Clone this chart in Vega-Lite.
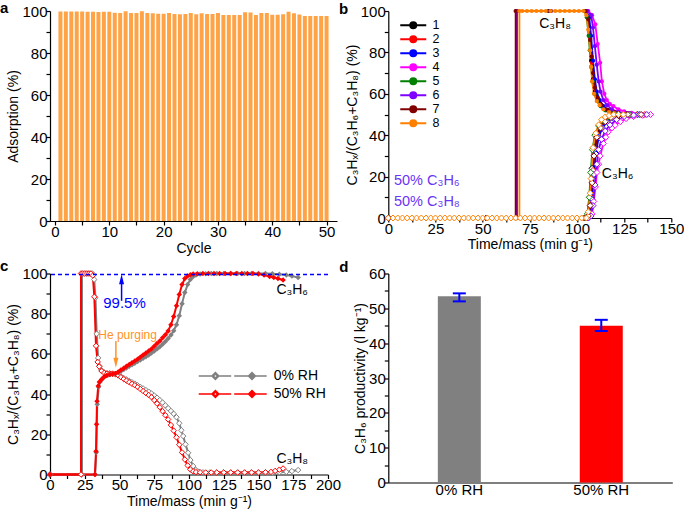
{
"$schema": "https://vega.github.io/schema/vega-lite/v6.json",
"background": "white",
"padding": {"left": 0, "top": 1, "right": 0, "bottom": 0},
"config": {
 "font": "Liberation Sans",
 "view": {"stroke": null},
 "axis": {"grid": false, "domainColor": "#000", "tickColor": "#000", "labelColor": "#000", "titleColor": "#000", "labelFontSize": 15, "titleFontSize": 14, "titleFontWeight": "normal", "tickSize": 4, "domainWidth": 1.2, "tickWidth": 1.2, "labelOverlap": false, "labelFlush": false},
 "axisX": {"labelPadding": -1, "titlePadding": 2},
 "axisY": {"labelPadding": -1, "titlePadding": 1},
 "title": {"fontSize": 15, "fontWeight": "bold", "anchor": "start", "frame": "group", "color": "#000", "baseline": "alphabetic", "offset": 0},
 "legend": {"labelFontSize": 14, "labelColor": "#000", "padding": 0, "title": null}
},
"columns": 2,
"spacing": {"row": 52.5, "column": 51.3},
"bounds": "flush",
"resolve": {"scale": {"color": "independent"}, "legend": {"color": "independent"}},
"concat": [
{
 "width": 287, "height": 210,
 "title": {"text": "a", "dx": -50, "dy": 16},
 "data": {"values": [
  {"cycle":1,"ads":99.8},{"cycle":2,"ads":99.8},{"cycle":3,"ads":99.8},{"cycle":4,"ads":99.8},{"cycle":5,"ads":99.8},
  {"cycle":6,"ads":99.7},{"cycle":7,"ads":99.6},{"cycle":8,"ads":99.5},{"cycle":9,"ads":99.7},{"cycle":10,"ads":99.7},
  {"cycle":11,"ads":99.2},{"cycle":12,"ads":99.1},{"cycle":13,"ads":99.9},{"cycle":14,"ads":99.1},{"cycle":15,"ads":99.1},
  {"cycle":16,"ads":99.9},{"cycle":17,"ads":99.0},{"cycle":18,"ads":98.9},{"cycle":19,"ads":98.7},{"cycle":20,"ads":98.7},
  {"cycle":21,"ads":99.0},{"cycle":22,"ads":98.6},{"cycle":23,"ads":98.5},{"cycle":24,"ads":98.6},{"cycle":25,"ads":99.0},
  {"cycle":26,"ads":98.5},{"cycle":27,"ads":98.9},{"cycle":28,"ads":98.6},{"cycle":29,"ads":98.6},{"cycle":30,"ads":99.0},
  {"cycle":31,"ads":98.1},{"cycle":32,"ads":98.1},{"cycle":33,"ads":98.1},{"cycle":34,"ads":98.1},{"cycle":35,"ads":99.4},
  {"cycle":36,"ads":99.3},{"cycle":37,"ads":98.1},{"cycle":38,"ads":99.0},{"cycle":39,"ads":99.0},{"cycle":40,"ads":98.2},
  {"cycle":41,"ads":98.2},{"cycle":42,"ads":98.4},{"cycle":43,"ads":99.7},{"cycle":44,"ads":98.9},{"cycle":45,"ads":98.3},
  {"cycle":46,"ads":97.6},{"cycle":47,"ads":97.6},{"cycle":48,"ads":97.6},{"cycle":49,"ads":97.6},{"cycle":50,"ads":97.6}
 ]},
 "mark": {"type": "bar", "color": "#ffa347", "size": 4},
 "encoding": {
  "x": {"field": "cycle", "type": "quantitative", "scale": {"domain": [0, 51], "nice": false},
        "axis": {"title": "Cycle", "format": "d", "tickCount": 100, "labelOverlap": false, "values": [0,5,10,15,20,25,30,35,40,45,50], "labelExpr": "datum.value % 10 === 0 ? datum.label : ''",
                 "encode": {"ticks": {"update": {"y2": {"signal": "datum.value % 10 === 0 ? 4 : 2"}}}, "labels": {"update": {"fontSize": {"signal": "datum.value % 10 === 0 ? 15 : 0"}}}}}},
  "y": {"field": "ads", "type": "quantitative", "scale": {"domain": [0, 100]},
        "axis": {"title": "Adsorption (%)", "format": "d", "tickCount": 100, "labelOverlap": false, "values": [0,10,20,30,40,50,60,70,80,90,100], "labelExpr": "datum.value % 20 === 0 ? datum.label : ''",
                 "encode": {"ticks": {"update": {"x2": {"signal": "datum.value % 20 === 0 ? -4 : -2"}}}, "labels": {"update": {"fontSize": {"signal": "datum.value % 20 === 0 ? 15 : 0"}}}}}}
 }
},
{
 "width": 283, "height": 207,
 "title": {"text": "b", "dx": -49.3, "dy": 16.7},
 "data": {"values": [
  {"s":"1","t":"P","x":0,"y":0},{"s":"1","t":"P","x":68,"y":0},{"s":"1","t":"P","x":68,"y":100},{"s":"1","t":"P","x":85,"y":100},{"s":"1","t":"P","x":104,"y":100},{"s":"1","t":"P","x":105.5,"y":97},{"s":"1","t":"P","x":106.5,"y":88},{"s":"1","t":"P","x":107.5,"y":76},{"s":"1","t":"P","x":108.5,"y":67},{"s":"1","t":"P","x":109.5,"y":61},{"s":"1","t":"P","x":111,"y":57},{"s":"1","t":"P","x":113,"y":54},{"s":"1","t":"P","x":116,"y":52},{"s":"1","t":"P","x":120,"y":50.8},{"s":"1","t":"P","x":126,"y":50.2},{"s":"1","t":"P","x":132,"y":50},
  {"s":"1","t":"E","x":0,"y":0},{"s":"1","t":"E","x":52,"y":0},{"s":"1","t":"E","x":104,"y":0},{"s":"1","t":"E","x":106,"y":2},{"s":"1","t":"E","x":107,"y":10},{"s":"1","t":"E","x":108,"y":24},{"s":"1","t":"E","x":109,"y":34},{"s":"1","t":"E","x":110.5,"y":40},{"s":"1","t":"E","x":112.5,"y":44},{"s":"1","t":"E","x":115,"y":47},{"s":"1","t":"E","x":118,"y":48.8},{"s":"1","t":"E","x":122,"y":49.6},{"s":"1","t":"E","x":126,"y":50},{"s":"1","t":"E","x":132,"y":50},
  {"s":"2","t":"P","x":0,"y":0},{"s":"2","t":"P","x":68,"y":0},{"s":"2","t":"P","x":68,"y":100},{"s":"2","t":"P","x":86,"y":100},{"s":"2","t":"P","x":104.5,"y":100},{"s":"2","t":"P","x":106,"y":97},{"s":"2","t":"P","x":107,"y":87},{"s":"2","t":"P","x":108,"y":75},{"s":"2","t":"P","x":109,"y":67},{"s":"2","t":"P","x":110,"y":61},{"s":"2","t":"P","x":111.5,"y":57},{"s":"2","t":"P","x":113.5,"y":54},{"s":"2","t":"P","x":116.5,"y":52},{"s":"2","t":"P","x":120.5,"y":50.8},{"s":"2","t":"P","x":127,"y":50.2},{"s":"2","t":"P","x":136,"y":50},
  {"s":"2","t":"E","x":0,"y":0},{"s":"2","t":"E","x":52,"y":0},{"s":"2","t":"E","x":104.5,"y":0},{"s":"2","t":"E","x":106.5,"y":2},{"s":"2","t":"E","x":107.5,"y":10},{"s":"2","t":"E","x":108.5,"y":23},{"s":"2","t":"E","x":109.5,"y":33},{"s":"2","t":"E","x":111,"y":40},{"s":"2","t":"E","x":113,"y":44},{"s":"2","t":"E","x":115.5,"y":46.8},{"s":"2","t":"E","x":118.5,"y":48.6},{"s":"2","t":"E","x":123,"y":49.6},{"s":"2","t":"E","x":128,"y":50},{"s":"2","t":"E","x":132,"y":50},{"s":"2","t":"E","x":136,"y":50},
  {"s":"3","t":"P","x":0,"y":0},{"s":"3","t":"P","x":68,"y":0},{"s":"3","t":"P","x":68,"y":100},{"s":"3","t":"P","x":86,"y":100},{"s":"3","t":"P","x":105,"y":100},{"s":"3","t":"P","x":106.5,"y":97},{"s":"3","t":"P","x":107.5,"y":88},{"s":"3","t":"P","x":108.5,"y":76},{"s":"3","t":"P","x":109.5,"y":67},{"s":"3","t":"P","x":110.5,"y":61},{"s":"3","t":"P","x":112,"y":57},{"s":"3","t":"P","x":114,"y":54},{"s":"3","t":"P","x":117,"y":52},{"s":"3","t":"P","x":121,"y":50.8},{"s":"3","t":"P","x":127,"y":50.2},{"s":"3","t":"P","x":133,"y":50},
  {"s":"3","t":"E","x":0,"y":0},{"s":"3","t":"E","x":52,"y":0},{"s":"3","t":"E","x":105,"y":0},{"s":"3","t":"E","x":107,"y":2},{"s":"3","t":"E","x":108,"y":9},{"s":"3","t":"E","x":109,"y":21},{"s":"3","t":"E","x":110,"y":31},{"s":"3","t":"E","x":111.5,"y":39},{"s":"3","t":"E","x":113.5,"y":43.5},{"s":"3","t":"E","x":116,"y":46.5},{"s":"3","t":"E","x":119,"y":48.5},{"s":"3","t":"E","x":123,"y":49.5},{"s":"3","t":"E","x":128,"y":50},{"s":"3","t":"E","x":133,"y":50},
  {"s":"4","t":"P","x":0,"y":0},{"s":"4","t":"P","x":68,"y":0},{"s":"4","t":"P","x":68,"y":100},{"s":"4","t":"P","x":86,"y":100},{"s":"4","t":"P","x":106,"y":100},{"s":"4","t":"P","x":108,"y":98},{"s":"4","t":"P","x":109.7,"y":93.6},{"s":"4","t":"P","x":111,"y":84},{"s":"4","t":"P","x":112.3,"y":75},{"s":"4","t":"P","x":113.2,"y":66},{"s":"4","t":"P","x":114.5,"y":60},{"s":"4","t":"P","x":115.8,"y":57},{"s":"4","t":"P","x":117.5,"y":55},{"s":"4","t":"P","x":119.3,"y":54},{"s":"4","t":"P","x":122,"y":52.5},{"s":"4","t":"P","x":125,"y":51.5},{"s":"4","t":"P","x":129,"y":50.8},{"s":"4","t":"P","x":134,"y":50.3},{"s":"4","t":"P","x":139,"y":50},
  {"s":"4","t":"E","x":0,"y":0},{"s":"4","t":"E","x":52,"y":0},{"s":"4","t":"E","x":106,"y":0},{"s":"4","t":"E","x":108,"y":2},{"s":"4","t":"E","x":108.9,"y":8},{"s":"4","t":"E","x":109.8,"y":15},{"s":"4","t":"E","x":110.6,"y":22},{"s":"4","t":"E","x":111.5,"y":26},{"s":"4","t":"E","x":112.3,"y":30},{"s":"4","t":"E","x":114,"y":36},{"s":"4","t":"E","x":115.3,"y":39},{"s":"4","t":"E","x":116.6,"y":41.6},{"s":"4","t":"E","x":118.5,"y":43.5},{"s":"4","t":"E","x":120.2,"y":44.8},{"s":"4","t":"E","x":123,"y":46.5},{"s":"4","t":"E","x":126,"y":48},{"s":"4","t":"E","x":130,"y":49},{"s":"4","t":"E","x":134.8,"y":49.6},{"s":"4","t":"E","x":139,"y":50},
  {"s":"5","t":"P","x":0,"y":0},{"s":"5","t":"P","x":68,"y":0},{"s":"5","t":"P","x":68,"y":100},{"s":"5","t":"P","x":86,"y":100},{"s":"5","t":"P","x":104,"y":100},{"s":"5","t":"P","x":105.2,"y":97},{"s":"5","t":"P","x":106.2,"y":88},{"s":"5","t":"P","x":106.8,"y":81},{"s":"5","t":"P","x":107.5,"y":73},{"s":"5","t":"P","x":108.3,"y":66},{"s":"5","t":"P","x":109.3,"y":60},{"s":"5","t":"P","x":110.7,"y":56.5},{"s":"5","t":"P","x":112.5,"y":54},{"s":"5","t":"P","x":115,"y":52},{"s":"5","t":"P","x":119,"y":50.7},{"s":"5","t":"P","x":123,"y":50.2},{"s":"5","t":"P","x":128,"y":50},
  {"s":"5","t":"E","x":0,"y":0},{"s":"5","t":"E","x":52,"y":0},{"s":"5","t":"E","x":104,"y":0},{"s":"5","t":"E","x":105.5,"y":2},{"s":"5","t":"E","x":106.5,"y":10},{"s":"5","t":"E","x":107.3,"y":22},{"s":"5","t":"E","x":108.2,"y":33},{"s":"5","t":"E","x":109.5,"y":40},{"s":"5","t":"E","x":111.5,"y":44.5},{"s":"5","t":"E","x":114,"y":47},{"s":"5","t":"E","x":117,"y":48.8},{"s":"5","t":"E","x":121,"y":49.7},{"s":"5","t":"E","x":128,"y":50},
  {"s":"6","t":"P","x":0,"y":0},{"s":"6","t":"P","x":68,"y":0},{"s":"6","t":"P","x":68,"y":100},{"s":"6","t":"P","x":86,"y":100},{"s":"6","t":"P","x":105.5,"y":100},{"s":"6","t":"P","x":107.5,"y":98},{"s":"6","t":"P","x":108.5,"y":92},{"s":"6","t":"P","x":109.5,"y":83},{"s":"6","t":"P","x":110.5,"y":74},{"s":"6","t":"P","x":111.5,"y":66},{"s":"6","t":"P","x":112.5,"y":61},{"s":"6","t":"P","x":114,"y":57},{"s":"6","t":"P","x":116,"y":54.5},{"s":"6","t":"P","x":118.5,"y":52.5},{"s":"6","t":"P","x":122,"y":51.2},{"s":"6","t":"P","x":127,"y":50.5},{"s":"6","t":"P","x":132,"y":50.2},{"s":"6","t":"P","x":137,"y":50},
  {"s":"6","t":"E","x":0,"y":0},{"s":"6","t":"E","x":52,"y":0},{"s":"6","t":"E","x":106,"y":0},{"s":"6","t":"E","x":107.5,"y":1},{"s":"6","t":"E","x":108.5,"y":6},{"s":"6","t":"E","x":109.5,"y":16},{"s":"6","t":"E","x":110.5,"y":26},{"s":"6","t":"E","x":111.5,"y":33},{"s":"6","t":"E","x":113,"y":38},{"s":"6","t":"E","x":115,"y":42},{"s":"6","t":"E","x":117.5,"y":45},{"s":"6","t":"E","x":121,"y":47.5},{"s":"6","t":"E","x":125,"y":49},{"s":"6","t":"E","x":130,"y":49.7},{"s":"6","t":"E","x":137,"y":50},
  {"s":"7","t":"P","x":0,"y":0},{"s":"7","t":"P","x":67.5,"y":0},{"s":"7","t":"P","x":67.5,"y":100},{"s":"7","t":"P","x":86,"y":100},{"s":"7","t":"P","x":104.5,"y":100},{"s":"7","t":"P","x":106,"y":96},{"s":"7","t":"P","x":107,"y":86},{"s":"7","t":"P","x":107.8,"y":78},{"s":"7","t":"P","x":108.5,"y":70},{"s":"7","t":"P","x":109.5,"y":63},{"s":"7","t":"P","x":111,"y":58},{"s":"7","t":"P","x":113,"y":54.5},{"s":"7","t":"P","x":116,"y":52.3},{"s":"7","t":"P","x":120,"y":51},{"s":"7","t":"P","x":126,"y":50.3},{"s":"7","t":"P","x":134,"y":50},
  {"s":"7","t":"E","x":0,"y":0},{"s":"7","t":"E","x":52,"y":0},{"s":"7","t":"E","x":104.5,"y":0},{"s":"7","t":"E","x":106,"y":1},{"s":"7","t":"E","x":107,"y":6},{"s":"7","t":"E","x":108,"y":17},{"s":"7","t":"E","x":109,"y":30},{"s":"7","t":"E","x":110.5,"y":39},{"s":"7","t":"E","x":112.5,"y":43.5},{"s":"7","t":"E","x":115,"y":46.5},{"s":"7","t":"E","x":118,"y":48.5},{"s":"7","t":"E","x":122,"y":49.5},{"s":"7","t":"E","x":127,"y":50},{"s":"7","t":"E","x":134,"y":50},
  {"s":"8","t":"P","x":0,"y":0},{"s":"8","t":"P","x":69.5,"y":0},{"s":"8","t":"P","x":69.5,"y":100},{"s":"8","t":"P","x":71,"y":100},{"s":"8","t":"P","x":73.5,"y":100},{"s":"8","t":"P","x":76,"y":100},{"s":"8","t":"P","x":78.5,"y":100},{"s":"8","t":"P","x":81,"y":100},{"s":"8","t":"P","x":83.5,"y":100},{"s":"8","t":"P","x":86,"y":100},{"s":"8","t":"P","x":88.5,"y":100},{"s":"8","t":"P","x":91,"y":100},{"s":"8","t":"P","x":93.5,"y":100},{"s":"8","t":"P","x":96,"y":100},{"s":"8","t":"P","x":98.5,"y":100},{"s":"8","t":"P","x":101,"y":100},{"s":"8","t":"P","x":103.5,"y":100},{"s":"8","t":"P","x":105,"y":98},{"s":"8","t":"P","x":106,"y":91},{"s":"8","t":"P","x":107,"y":81},{"s":"8","t":"P","x":107.5,"y":73},{"s":"8","t":"P","x":108,"y":66},{"s":"8","t":"P","x":109,"y":60},{"s":"8","t":"P","x":110.5,"y":56.5},{"s":"8","t":"P","x":112,"y":54.5},{"s":"8","t":"P","x":114,"y":52.5},{"s":"8","t":"P","x":117,"y":51.2},{"s":"8","t":"P","x":120,"y":50.5},{"s":"8","t":"P","x":124.5,"y":50},
  {"s":"8","t":"E","x":0,"y":0},{"s":"8","t":"E","x":2.5,"y":0},{"s":"8","t":"E","x":5,"y":0},{"s":"8","t":"E","x":7.5,"y":0},{"s":"8","t":"E","x":10,"y":0},{"s":"8","t":"E","x":12.5,"y":0},{"s":"8","t":"E","x":15,"y":0},{"s":"8","t":"E","x":17.5,"y":0},{"s":"8","t":"E","x":20,"y":0},{"s":"8","t":"E","x":22.5,"y":0},{"s":"8","t":"E","x":25,"y":0},{"s":"8","t":"E","x":27.5,"y":0},{"s":"8","t":"E","x":30,"y":0},{"s":"8","t":"E","x":32.5,"y":0},{"s":"8","t":"E","x":35,"y":0},{"s":"8","t":"E","x":37.5,"y":0},{"s":"8","t":"E","x":40,"y":0},{"s":"8","t":"E","x":42.5,"y":0},{"s":"8","t":"E","x":45,"y":0},{"s":"8","t":"E","x":47.5,"y":0},{"s":"8","t":"E","x":50,"y":0},{"s":"8","t":"E","x":52.5,"y":0},{"s":"8","t":"E","x":55,"y":0},{"s":"8","t":"E","x":57.5,"y":0},{"s":"8","t":"E","x":60,"y":0},{"s":"8","t":"E","x":62.5,"y":0},{"s":"8","t":"E","x":65,"y":0},{"s":"8","t":"E","x":67.5,"y":0},{"s":"8","t":"E","x":70,"y":0},{"s":"8","t":"E","x":72.5,"y":0},{"s":"8","t":"E","x":75,"y":0},{"s":"8","t":"E","x":77.5,"y":0},{"s":"8","t":"E","x":80,"y":0},{"s":"8","t":"E","x":82.5,"y":0},{"s":"8","t":"E","x":85,"y":0},{"s":"8","t":"E","x":87.5,"y":0},{"s":"8","t":"E","x":90,"y":0},{"s":"8","t":"E","x":92.5,"y":0},{"s":"8","t":"E","x":95,"y":0},{"s":"8","t":"E","x":97.5,"y":0},{"s":"8","t":"E","x":100,"y":0},{"s":"8","t":"E","x":102.5,"y":0},{"s":"8","t":"E","x":105,"y":0},{"s":"8","t":"E","x":106,"y":3},{"s":"8","t":"E","x":107,"y":12},{"s":"8","t":"E","x":107.5,"y":19},{"s":"8","t":"E","x":108.5,"y":34},{"s":"8","t":"E","x":110,"y":41},{"s":"8","t":"E","x":111.5,"y":45},{"s":"8","t":"E","x":113,"y":47.5},{"s":"8","t":"E","x":115,"y":48.8},{"s":"8","t":"E","x":117,"y":49.5},{"s":"8","t":"E","x":119.5,"y":50},{"s":"8","t":"E","x":122,"y":50},{"s":"8","t":"E","x":124.5,"y":50}
 ]},
 "layer": [
  {"mark": {"type": "line", "strokeWidth": 1.8},
   "encoding": {
    "x": {"field": "x", "type": "quantitative", "scale": {"domain": [0, 150], "nice": false},
          "axis": {"title": "Time/mass (min g⁻¹)", "format": "d", "titlePadding": 1, "tickCount": 100, "labelOverlap": false, "values": [0,12.5,25,37.5,50,62.5,75,87.5,100,112.5,125,137.5,150], "labelExpr": "datum.value % 25 === 0 ? datum.label : ''",
                   "encode": {"ticks": {"update": {"y2": {"signal": "datum.value % 25 === 0 ? 4 : 2"}}}, "labels": {"update": {"fontSize": {"signal": "datum.value % 25 === 0 ? 15 : 0"}}}}}},
    "y": {"field": "y", "type": "quantitative", "scale": {"domain": [0, 100]},
          "axis": {"title": "C₃Hₓ/(C₃H₆+C₃H₈) (%)", "format": "d", "tickCount": 100, "labelOverlap": false, "values": [0,10,20,30,40,50,60,70,80,90,100], "labelExpr": "datum.value % 20 === 0 ? datum.label : ''",
                   "encode": {"ticks": {"update": {"x2": {"signal": "datum.value % 20 === 0 ? -4 : -2"}}}, "labels": {"update": {"fontSize": {"signal": "datum.value % 20 === 0 ? 15 : 0"}}}}}},
    "color": {"field": "s", "type": "nominal",
              "scale": {"domain": ["1","2","3","4","5","6","7","8"], "range": ["#000000","#ff0000","#0000ff","#ff00ff","#008000","#8000ff","#800000","#ff8000"]},
              "legend": {"orient": "none", "legendX": 18.7, "legendY": 8, "title": null,
                         "symbolType": "M-2.6,0H2.6M-0.6,0A0.6,0.6 0 1 0 0.6,0A0.6,0.6 0 1 0 -0.6,0Z",
                         "symbolSize": 100, "symbolStrokeWidth": 2, "labelOffset": 13, "rowPadding": -1.8, "labelFontSize": 12.5,
                         "encode": {"symbols": {"update": {"fill": {"signal": "datum.value==='1'?'#000000':datum.value==='2'?'#ff0000':datum.value==='3'?'#0000ff':datum.value==='4'?'#ff00ff':datum.value==='5'?'#008000':datum.value==='6'?'#8000ff':datum.value==='7'?'#800000':'#ff8000'"}, "opacity": {"value": 1}}}}}},
    "detail": {"field": "t"}
   }},
  {"transform": [{"filter": "datum.t === 'P'"}],
   "mark": {"type": "point", "shape": "circle", "filled": true, "size": 18, "opacity": 1},
   "encoding": {"x": {"field": "x", "type": "quantitative"}, "y": {"field": "y", "type": "quantitative"},
                "color": {"field": "s", "type": "nominal", "legend": null}}},
  {"transform": [{"filter": "datum.t === 'E'"}],
   "mark": {"type": "point", "shape": "diamond", "filled": false, "fill": "white", "fillOpacity": 1, "size": 36, "strokeWidth": 1, "opacity": 1},
   "encoding": {"x": {"field": "x", "type": "quantitative"}, "y": {"field": "y", "type": "quantitative"},
                "color": {"field": "s", "type": "nominal", "legend": null}}},
  {"data": {"values": [{"x": 80, "y": 93.6, "label": "C₃H₈"}, {"x": 113.2, "y": 21.4, "label": "C₃H₆"}]},
   "mark": {"type": "text", "align": "left", "baseline": "middle", "fontSize": 14, "color": "#000"},
   "encoding": {"x": {"field": "x", "type": "quantitative"}, "y": {"field": "y", "type": "quantitative"}, "text": {"field": "label"}}},
  {"data": {"values": [{"x": 3, "y": 17.7, "label": "50% C₃H₆"}, {"x": 3, "y": 7.6, "label": "50% C₃H₈"}]},
   "mark": {"type": "text", "align": "left", "baseline": "middle", "fontSize": 14.5, "color": "#6a35f5"},
   "encoding": {"x": {"field": "x", "type": "quantitative"}, "y": {"field": "y", "type": "quantitative"}, "text": {"field": "label"}}}
 ]
},
{
 "width": 278, "height": 201,
 "title": {"text": "c", "dx": -50, "dy": 11.5},
 "data": {"values": [
  {"s":"0","t":"P","x":0,"y":0},{"s":"0","t":"P","x":23,"y":0},{"s":"0","t":"P","x":23,"y":100},{"s":"0","t":"P","x":24.5,"y":100},{"s":"0","t":"P","x":26,"y":100},{"s":"0","t":"P","x":27.5,"y":100},{"s":"0","t":"P","x":29,"y":100},{"s":"0","t":"P","x":30.5,"y":100},{"s":"0","t":"P","x":31.8,"y":97},{"s":"0","t":"P","x":32.7,"y":88},{"s":"0","t":"P","x":33.6,"y":70},{"s":"0","t":"P","x":34.6,"y":58},{"s":"0","t":"P","x":35.6,"y":54},{"s":"0","t":"P","x":37,"y":52},{"s":"0","t":"P","x":39,"y":50.8},{"s":"0","t":"P","x":41,"y":50.4},{"s":"0","t":"P","x":43,"y":50.3},{"s":"0","t":"P","x":45,"y":50.2},{"s":"0","t":"P","x":47,"y":50},{"s":"0","t":"P","x":49,"y":49.5},{"s":"0","t":"P","x":51,"y":48.8},{"s":"0","t":"P","x":53,"y":48},{"s":"0","t":"P","x":55,"y":47.3},{"s":"0","t":"P","x":57,"y":46.6},{"s":"0","t":"P","x":59,"y":45.9},{"s":"0","t":"P","x":61,"y":45.2},{"s":"0","t":"P","x":63,"y":44.4},{"s":"0","t":"P","x":65,"y":43.6},{"s":"0","t":"P","x":67,"y":42.8},{"s":"0","t":"P","x":69,"y":42},{"s":"0","t":"P","x":71,"y":41.2},{"s":"0","t":"P","x":73,"y":40.3},{"s":"0","t":"P","x":75,"y":39.3},{"s":"0","t":"P","x":77,"y":38.2},{"s":"0","t":"P","x":79,"y":37},{"s":"0","t":"P","x":81,"y":35.8},{"s":"0","t":"P","x":83,"y":34.4},{"s":"0","t":"P","x":85,"y":33},{"s":"0","t":"P","x":87,"y":31.6},{"s":"0","t":"P","x":89,"y":30.2},{"s":"0","t":"P","x":91,"y":28.5},{"s":"0","t":"P","x":93,"y":25.5},{"s":"0","t":"P","x":94.5,"y":22},{"s":"0","t":"P","x":95.8,"y":19.1},{"s":"0","t":"P","x":97.5,"y":15},{"s":"0","t":"P","x":99.4,"y":10.8},{"s":"0","t":"P","x":101,"y":7.2},{"s":"0","t":"P","x":103,"y":4.2},{"s":"0","t":"P","x":105,"y":2.2},{"s":"0","t":"P","x":107,"y":1.4},{"s":"0","t":"P","x":110,"y":1.1},{"s":"0","t":"P","x":115,"y":1},{"s":"0","t":"P","x":120,"y":1},{"s":"0","t":"P","x":125,"y":1},{"s":"0","t":"P","x":130,"y":1},{"s":"0","t":"P","x":135,"y":1},{"s":"0","t":"P","x":140,"y":1},{"s":"0","t":"P","x":145,"y":1},{"s":"0","t":"P","x":150,"y":1},{"s":"0","t":"P","x":155,"y":1},{"s":"0","t":"P","x":160,"y":1},{"s":"0","t":"P","x":165,"y":1.1},{"s":"0","t":"P","x":170,"y":1.3},{"s":"0","t":"P","x":174,"y":1.7},{"s":"0","t":"P","x":178.5,"y":2.2},
  {"s":"0","t":"E","x":0,"y":0},{"s":"0","t":"E","x":32.5,"y":0},{"s":"0","t":"E","x":33.3,"y":11},{"s":"0","t":"E","x":34,"y":35},{"s":"0","t":"E","x":35,"y":43.5},{"s":"0","t":"E","x":36,"y":46},{"s":"0","t":"E","x":37.5,"y":47.5},{"s":"0","t":"E","x":39.5,"y":48.8},{"s":"0","t":"E","x":41.5,"y":49.4},{"s":"0","t":"E","x":43.5,"y":49.8},{"s":"0","t":"E","x":45.5,"y":50},{"s":"0","t":"E","x":47,"y":50},{"s":"0","t":"E","x":49,"y":50.6},{"s":"0","t":"E","x":51,"y":51.4},{"s":"0","t":"E","x":53,"y":52.2},{"s":"0","t":"E","x":55,"y":53},{"s":"0","t":"E","x":57,"y":53.8},{"s":"0","t":"E","x":59,"y":54.6},{"s":"0","t":"E","x":61,"y":55.4},{"s":"0","t":"E","x":63,"y":56.2},{"s":"0","t":"E","x":65,"y":57},{"s":"0","t":"E","x":67,"y":57.8},{"s":"0","t":"E","x":69,"y":58.6},{"s":"0","t":"E","x":71,"y":59.5},{"s":"0","t":"E","x":73,"y":60.4},{"s":"0","t":"E","x":75,"y":61.4},{"s":"0","t":"E","x":77,"y":62.5},{"s":"0","t":"E","x":79,"y":63.6},{"s":"0","t":"E","x":81,"y":64.8},{"s":"0","t":"E","x":83,"y":66.2},{"s":"0","t":"E","x":85,"y":67.7},{"s":"0","t":"E","x":87,"y":69.4},{"s":"0","t":"E","x":89,"y":71.5},{"s":"0","t":"E","x":91,"y":74.5},{"s":"0","t":"E","x":93,"y":79},{"s":"0","t":"E","x":95,"y":85},{"s":"0","t":"E","x":97,"y":90.5},{"s":"0","t":"E","x":99,"y":94.5},{"s":"0","t":"E","x":101,"y":97},{"s":"0","t":"E","x":103,"y":98.5},{"s":"0","t":"E","x":105,"y":99.3},{"s":"0","t":"E","x":108,"y":99.7},{"s":"0","t":"E","x":112,"y":99.9},{"s":"0","t":"E","x":116,"y":100},{"s":"0","t":"E","x":120,"y":100},{"s":"0","t":"E","x":125,"y":100},{"s":"0","t":"E","x":130,"y":100},{"s":"0","t":"E","x":135,"y":100},{"s":"0","t":"E","x":140,"y":100},{"s":"0","t":"E","x":145,"y":100},{"s":"0","t":"E","x":150,"y":100},{"s":"0","t":"E","x":155,"y":100},{"s":"0","t":"E","x":160,"y":99.9},{"s":"0","t":"E","x":165,"y":99.6},{"s":"0","t":"E","x":170,"y":99.2},{"s":"0","t":"E","x":174,"y":98.7},{"s":"0","t":"E","x":178.5,"y":98},
  {"s":"50","t":"P","x":0,"y":0},{"s":"50","t":"P","x":22.3,"y":0},{"s":"50","t":"P","x":22.3,"y":100},{"s":"50","t":"P","x":23.5,"y":100},{"s":"50","t":"P","x":25,"y":100},{"s":"50","t":"P","x":26.5,"y":100},{"s":"50","t":"P","x":28,"y":100},{"s":"50","t":"P","x":29.5,"y":100},{"s":"50","t":"P","x":30.8,"y":99},{"s":"50","t":"P","x":31.9,"y":88.4},{"s":"50","t":"P","x":33.1,"y":64},{"s":"50","t":"P","x":34.3,"y":56},{"s":"50","t":"P","x":35.4,"y":53.7},{"s":"50","t":"P","x":37.1,"y":51.5},{"s":"50","t":"P","x":39,"y":50.5},{"s":"50","t":"P","x":41,"y":50.2},{"s":"50","t":"P","x":43,"y":50.2},{"s":"50","t":"P","x":45,"y":50.2},{"s":"50","t":"P","x":47,"y":50},{"s":"50","t":"P","x":49,"y":49.3},{"s":"50","t":"P","x":51,"y":48.4},{"s":"50","t":"P","x":53,"y":47.5},{"s":"50","t":"P","x":55,"y":46.7},{"s":"50","t":"P","x":57,"y":45.9},{"s":"50","t":"P","x":59,"y":45.1},{"s":"50","t":"P","x":61,"y":44.4},{"s":"50","t":"P","x":63,"y":43.5},{"s":"50","t":"P","x":65,"y":42.5},{"s":"50","t":"P","x":67,"y":41.5},{"s":"50","t":"P","x":69,"y":40.5},{"s":"50","t":"P","x":71,"y":39.5},{"s":"50","t":"P","x":73,"y":38.5},{"s":"50","t":"P","x":75,"y":37},{"s":"50","t":"P","x":77,"y":35.3},{"s":"50","t":"P","x":79,"y":33.5},{"s":"50","t":"P","x":81,"y":31.5},{"s":"50","t":"P","x":83,"y":29.5},{"s":"50","t":"P","x":85,"y":27.4},{"s":"50","t":"P","x":87,"y":24.6},{"s":"50","t":"P","x":89,"y":21.8},{"s":"50","t":"P","x":91,"y":18.5},{"s":"50","t":"P","x":93,"y":14.8},{"s":"50","t":"P","x":95,"y":11},{"s":"50","t":"P","x":97,"y":7.5},{"s":"50","t":"P","x":99,"y":4.5},{"s":"50","t":"P","x":101,"y":2.5},{"s":"50","t":"P","x":103,"y":1.6},{"s":"50","t":"P","x":105,"y":1.2},{"s":"50","t":"P","x":108,"y":1.1},{"s":"50","t":"P","x":112,"y":1},{"s":"50","t":"P","x":116,"y":1},{"s":"50","t":"P","x":120,"y":1},{"s":"50","t":"P","x":125,"y":1},{"s":"50","t":"P","x":130,"y":1},{"s":"50","t":"P","x":135,"y":1},{"s":"50","t":"P","x":140,"y":1},{"s":"50","t":"P","x":145,"y":1},{"s":"50","t":"P","x":150,"y":1},{"s":"50","t":"P","x":155,"y":1.1},{"s":"50","t":"P","x":159,"y":1.3},{"s":"50","t":"P","x":162,"y":1.8},{"s":"50","t":"P","x":165,"y":2.4},{"s":"50","t":"P","x":167.7,"y":3},
  {"s":"50","t":"E","x":0,"y":0},{"s":"50","t":"E","x":32.3,"y":0},{"s":"50","t":"E","x":33.1,"y":11.6},{"s":"50","t":"E","x":33.5,"y":25},{"s":"50","t":"E","x":33.8,"y":36.5},{"s":"50","t":"E","x":34.7,"y":44},{"s":"50","t":"E","x":35.5,"y":46},{"s":"50","t":"E","x":37.1,"y":47.3},{"s":"50","t":"E","x":39,"y":48.6},{"s":"50","t":"E","x":40.7,"y":49.3},{"s":"50","t":"E","x":43,"y":49.8},{"s":"50","t":"E","x":45,"y":50},{"s":"50","t":"E","x":47,"y":50.2},{"s":"50","t":"E","x":49,"y":51},{"s":"50","t":"E","x":51,"y":52},{"s":"50","t":"E","x":53,"y":52.9},{"s":"50","t":"E","x":55,"y":53.8},{"s":"50","t":"E","x":57,"y":54.7},{"s":"50","t":"E","x":59,"y":55.6},{"s":"50","t":"E","x":61,"y":56.5},{"s":"50","t":"E","x":63,"y":57.4},{"s":"50","t":"E","x":65,"y":58.4},{"s":"50","t":"E","x":67,"y":59.4},{"s":"50","t":"E","x":69,"y":60.4},{"s":"50","t":"E","x":71,"y":61.5},{"s":"50","t":"E","x":73,"y":62.5},{"s":"50","t":"E","x":75,"y":63.8},{"s":"50","t":"E","x":77,"y":65.2},{"s":"50","t":"E","x":79,"y":66.4},{"s":"50","t":"E","x":81,"y":68},{"s":"50","t":"E","x":83,"y":69.5},{"s":"50","t":"E","x":85,"y":71.4},{"s":"50","t":"E","x":87,"y":74.5},{"s":"50","t":"E","x":89,"y":78.6},{"s":"50","t":"E","x":91,"y":83.9},{"s":"50","t":"E","x":93,"y":89.5},{"s":"50","t":"E","x":95,"y":94.5},{"s":"50","t":"E","x":97,"y":97.5},{"s":"50","t":"E","x":99,"y":98.8},{"s":"50","t":"E","x":101,"y":99.4},{"s":"50","t":"E","x":103,"y":99.7},{"s":"50","t":"E","x":106,"y":99.9},{"s":"50","t":"E","x":110,"y":100},{"s":"50","t":"E","x":114,"y":100},{"s":"50","t":"E","x":118,"y":100},{"s":"50","t":"E","x":122,"y":100},{"s":"50","t":"E","x":126,"y":100},{"s":"50","t":"E","x":130,"y":100},{"s":"50","t":"E","x":134,"y":100},{"s":"50","t":"E","x":138,"y":100},{"s":"50","t":"E","x":142,"y":100},{"s":"50","t":"E","x":146,"y":100},{"s":"50","t":"E","x":150,"y":99.8},{"s":"50","t":"E","x":154,"y":99.2},{"s":"50","t":"E","x":158,"y":98.5},{"s":"50","t":"E","x":161,"y":98},{"s":"50","t":"E","x":164,"y":97.5},{"s":"50","t":"E","x":167.7,"y":96.8}
 ]},
 "layer": [
  {"mark": {"type": "line", "strokeWidth": 2},
   "encoding": {
    "x": {"field": "x", "type": "quantitative", "scale": {"domain": [0, 200], "nice": false},
          "axis": {"title": "Time/mass (min g⁻¹)", "format": "d", "tickCount": 100, "labelOverlap": false, "values": [0,12.5,25,37.5,50,62.5,75,87.5,100,112.5,125,137.5,150,162.5,175,187.5,200], "labelExpr": "datum.value % 25 === 0 ? datum.label : ''",
                   "encode": {"ticks": {"update": {"y2": {"signal": "datum.value % 25 === 0 ? 4 : 2"}}}, "labels": {"update": {"fontSize": {"signal": "datum.value % 25 === 0 ? 15 : 0"}}}}}},
    "y": {"field": "y", "type": "quantitative", "scale": {"domain": [0, 100]},
          "axis": {"title": "C₃Hₓ/(C₃H₆+C₃H₈) (%)", "format": "d", "tickCount": 100, "labelOverlap": false, "values": [0,10,20,30,40,50,60,70,80,90,100], "labelExpr": "datum.value % 20 === 0 ? datum.label : ''",
                   "encode": {"ticks": {"update": {"x2": {"signal": "datum.value % 20 === 0 ? -4 : -2"}}}, "labels": {"update": {"fontSize": {"signal": "datum.value % 20 === 0 ? 15 : 0"}}}}}},
    "color": {"field": "s", "type": "nominal",
              "scale": {"domain": ["0","50"], "range": ["#808080","#ff0000"]},
              "legend": {"orient": "none", "legendX": 175.7, "legendY": 95.5, "title": null,
                         "symbolType": "M-6.8,0H-4.16M-2.76,0H-0.3M0.3,0H3.16M4.56,0H6.8M-4.16,0L-3.46,-0.7L-2.76,0L-3.46,0.7ZM-3.86,0L-3.46,0.4L-3.06,0L-3.46,-0.4ZM3.16,0L3.86,-0.7L4.56,0L3.86,0.7Z",
                         "symbolSize": 100, "symbolStrokeWidth": 1.5, "labelOffset": 34, "rowPadding": 4, "labelFontSize": 14,
                         "labelExpr": "datum.label + '% RH'",
                         "encode": {"symbols": {"update": {"fill": {"signal": "datum.value==='0'?'#808080':'#ff0000'"}, "opacity": {"value": 1}}}}}},
    "detail": {"field": "t"}
   }},
  {"transform": [{"filter": "datum.t === 'P'"}],
   "mark": {"type": "point", "shape": "diamond", "filled": false, "fill": "white", "fillOpacity": 1, "size": 30, "strokeWidth": 1, "opacity": 1},
   "encoding": {"x": {"field": "x", "type": "quantitative"}, "y": {"field": "y", "type": "quantitative"},
                "color": {"field": "s", "type": "nominal", "legend": null}}},
  {"transform": [{"filter": "datum.t === 'E'"}],
   "mark": {"type": "point", "shape": "diamond", "filled": true, "size": 30, "opacity": 1},
   "encoding": {"x": {"field": "x", "type": "quantitative"}, "y": {"field": "y", "type": "quantitative"},
                "color": {"field": "s", "type": "nominal", "legend": null}}},
  {"data": {"values": [{"y": 99.5}]},
   "mark": {"type": "rule", "color": "#0000ff", "strokeDash": [4, 3], "strokeWidth": 1.5},
   "encoding": {"y": {"field": "y", "type": "quantitative"}}},
  {"data": {"values": [{"x": 51.5, "y": 86.4, "y2": 95}]},
   "mark": {"type": "rule", "color": "#0000ff", "strokeWidth": 1.5},
   "encoding": {"x": {"field": "x", "type": "quantitative"}, "y": {"field": "y", "type": "quantitative"}, "y2": {"field": "y2"}}},
  {"data": {"values": [{"x": 51.5, "y": 97.15}]},
   "mark": {"type": "point", "shape": "M-0.5,1L0,-1L0.5,1Z", "filled": true, "size": 100, "color": "#0000ff", "opacity": 1},
   "encoding": {"x": {"field": "x", "type": "quantitative"}, "y": {"field": "y", "type": "quantitative"}}},
  {"data": {"values": [{"x": 47.4, "y": 66.4, "y2": 58}]},
   "mark": {"type": "rule", "color": "#ff9326", "strokeWidth": 1.5},
   "encoding": {"x": {"field": "x", "type": "quantitative"}, "y": {"field": "y", "type": "quantitative"}, "y2": {"field": "y2"}}},
  {"data": {"values": [{"x": 47.4, "y": 55.6}]},
   "mark": {"type": "point", "shape": "M-0.5,-1L0,1L0.5,-1Z", "filled": true, "size": 100, "color": "#ff9326", "opacity": 1},
   "encoding": {"x": {"field": "x", "type": "quantitative"}, "y": {"field": "y", "type": "quantitative"}}},
  {"data": {"values": [{"x": 38.3, "y": 85.5, "label": "99.5%"}]},
   "mark": {"type": "text", "align": "left", "baseline": "middle", "fontSize": 15, "color": "#0000ff"},
   "encoding": {"x": {"field": "x", "type": "quantitative"}, "y": {"field": "y", "type": "quantitative"}, "text": {"field": "label"}}},
  {"data": {"values": [{"x": 34.7, "y": 69.3, "label": "He purging"}]},
   "mark": {"type": "text", "align": "left", "baseline": "middle", "fontSize": 12, "color": "#ff9326"},
   "encoding": {"x": {"field": "x", "type": "quantitative"}, "y": {"field": "y", "type": "quantitative"}, "text": {"field": "label"}}},
  {"data": {"values": [{"x": 162.9, "y": 91.9, "label": "C₃H₆"}, {"x": 162.9, "y": 7.8, "label": "C₃H₈"}]},
   "mark": {"type": "text", "align": "left", "baseline": "middle", "fontSize": 14, "color": "#000"},
   "encoding": {"x": {"field": "x", "type": "quantitative"}, "y": {"field": "y", "type": "quantitative"}, "text": {"field": "label"}}}
 ]
},
{
 "width": 284, "height": 209,
 "title": {"text": "d", "dx": -49, "dy": 12.5},
 "data": {"values": [
  {"c": "0% RH", "v": 53.5, "lo": 52, "hi": 54.3},
  {"c": "50% RH", "v": 45, "lo": 43.5, "hi": 46.7}
 ]},
 "layer": [
  {"mark": {"type": "bar"},
   "encoding": {
    "x": {"field": "c", "type": "nominal", "scale": {"paddingInner": 0.697, "paddingOuter": 0.349},
          "axis": {"title": null, "labelAngle": 0, "ticks": false, "labelPadding": 0}},
    "y": {"field": "v", "type": "quantitative", "scale": {"domain": [0, 60]},
          "axis": {"title": "C₃H₆ productivity (l kg⁻¹)", "format": "d", "tickCount": 100, "labelOverlap": false, "values": [0,5,10,15,20,25,30,35,40,45,50,55,60], "labelExpr": "datum.value % 10 === 0 ? datum.label : ''",
                   "encode": {"ticks": {"update": {"x2": {"signal": "datum.value % 10 === 0 ? -4 : -2"}}}, "labels": {"update": {"fontSize": {"signal": "datum.value % 10 === 0 ? 15 : 0"}}}}}},
    "color": {"field": "c", "type": "nominal", "scale": {"domain": ["0% RH", "50% RH"], "range": ["#808080", "#ff0000"]}, "legend": null}
   }},
  {"mark": {"type": "rule", "color": "#0000ff", "strokeWidth": 2},
   "encoding": {"x": {"field": "c", "type": "nominal"}, "y": {"field": "lo", "type": "quantitative"}, "y2": {"field": "hi"}}},
  {"mark": {"type": "tick", "color": "#0000ff", "thickness": 2, "size": 13, "opacity": 1},
   "encoding": {"x": {"field": "c", "type": "nominal"}, "y": {"field": "lo", "type": "quantitative"}}},
  {"mark": {"type": "tick", "color": "#0000ff", "thickness": 2, "size": 13, "opacity": 1},
   "encoding": {"x": {"field": "c", "type": "nominal"}, "y": {"field": "hi", "type": "quantitative"}}}
 ]
}
]
}
